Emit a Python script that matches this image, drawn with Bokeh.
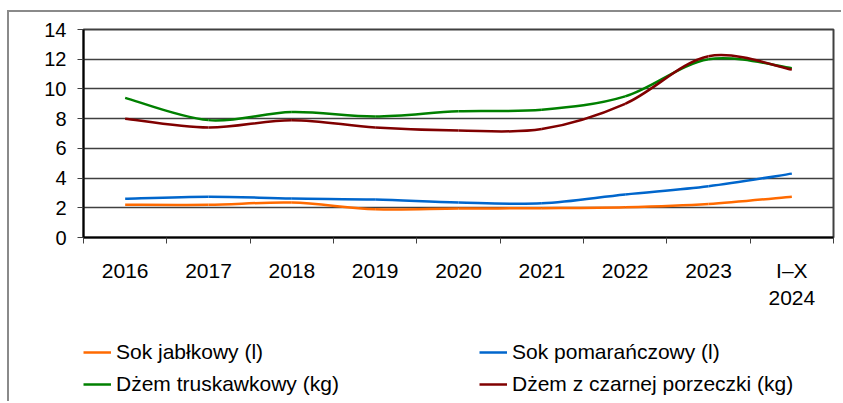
from bokeh.plotting import figure
from bokeh.models import FixedTicker, Legend, LegendItem, Range1d
from bokeh.layouts import column
from bokeh.embed import file_html
from bokeh.resources import INLINE

years = ["2016", "2017", "2018", "2019", "2020", "2021", "2022", "2023", "I–X\n2024"]
sok_jablkowy = [2.2, 2.2, 2.35, 1.9, 1.95, 1.97, 2.03, 2.25, 2.75]
sok_pomaranczowy = [2.6, 2.75, 2.62, 2.55, 2.35, 2.3, 2.9, 3.45, 4.3]
dzem_truskawkowy = [9.4, 7.9, 8.45, 8.15, 8.5, 8.6, 9.5, 12.0, 11.4]
dzem_porzeczki = [8.0, 7.4, 7.9, 7.4, 7.2, 7.3, 9.0, 12.2, 11.3]

series = [
    ("Sok jabłkowy (l)", sok_jablkowy, "#FF6A00"),
    ("Sok pomarańczowy (l)", sok_pomaranczowy, "#0066CC"),
    ("Dżem truskawkowy (kg)", dzem_truskawkowy, "#008000"),
    ("Dżem z czarnej porzeczki (kg)", dzem_porzeczki, "#800000"),
]

FONT = "Liberation Sans"

p = figure(width=832, height=300, output_backend="svg", toolbar_location=None,
           x_range=Range1d(0, len(years)), y_range=Range1d(0, 14),
           min_border_left=74, min_border_top=17, min_border_right=8, min_border_bottom=70)

p.background_fill_color = "white"
p.border_fill_color = "white"
p.outline_line_color = "#404040"
p.outline_line_width = 2

xs = [i + 0.5 for i in range(len(years))]

# x axis: labels at centers, tick marks at category boundaries
p.xaxis.ticker = FixedTicker(ticks=xs, minor_ticks=list(range(len(years) + 1)))
p.xaxis.major_label_overrides = {x: lab for x, lab in zip(xs, years)}
p.xaxis.major_tick_out = 0
p.xaxis.major_tick_in = 0
p.xaxis.minor_tick_out = 6
p.xaxis.minor_tick_in = 0
p.xaxis.minor_tick_line_color = "#404040"
p.xaxis.axis_line_color = "black"
p.xaxis.axis_line_width = 2
p.xaxis.major_label_text_font = FONT
p.xaxis.major_label_text_font_size = "21px"
p.xaxis.major_label_text_color = "black"
p.xaxis.major_label_standoff = 15

p.yaxis.ticker = FixedTicker(ticks=[0, 2, 4, 6, 8, 10, 12, 14])
p.yaxis.major_tick_out = 6
p.yaxis.major_tick_in = 0
p.yaxis.minor_tick_out = 0
p.yaxis.minor_tick_in = 0
p.yaxis.major_tick_line_color = "#404040"
p.yaxis.axis_line_color = "black"
p.yaxis.axis_line_width = 2
p.yaxis.major_label_text_font = FONT
p.yaxis.major_label_text_font_size = "20px"
p.yaxis.major_label_text_color = "black"
p.yaxis.major_label_standoff = 11

p.xgrid.grid_line_color = None
p.ygrid.grid_line_color = "#404040"
p.ygrid.grid_line_width = 1.3


def smooth_segments(x, y):
    n = len(x)
    x0, y0, x1, y1, cx0, cy0, cx1, cy1 = [], [], [], [], [], [], [], []
    for i in range(n - 1):
        im1 = max(i - 1, 0)
        ip2 = min(i + 2, n - 1)
        x0.append(x[i]); y0.append(y[i])
        x1.append(x[i + 1]); y1.append(y[i + 1])
        cx0.append(x[i] + (x[i + 1] - x[im1]) / 6.0)
        cy0.append(y[i] + (y[i + 1] - y[im1]) / 6.0)
        cx1.append(x[i + 1] - (x[ip2] - x[i]) / 6.0)
        cy1.append(y[i + 1] - (y[ip2] - y[i]) / 6.0)
    return dict(x0=x0, y0=y0, x1=x1, y1=y1, cx0=cx0, cy0=cy0, cx1=cx1, cy1=cy1)


for name, vals, color in series:
    seg = smooth_segments(xs, vals)
    p.bezier(**seg, line_color=color, line_width=2.5)

# legend panel (separate figure below the chart so the legend is not clipped);
# its ranges keep the series lines out of view, only the legend shows
p2 = figure(width=832, height=89, output_backend="svg", toolbar_location=None,
            x_range=Range1d(100, 101), y_range=Range1d(100, 101),
            x_axis_type=None, y_axis_type=None,
            min_border_left=0, min_border_top=0, min_border_right=0, min_border_bottom=0)
p2.outline_line_color = None
p2.xgrid.grid_line_color = None
p2.ygrid.grid_line_color = None
p2.background_fill_color = "white"
p2.border_fill_color = "white"

legend_renderers = {}
for name, vals, color in series:
    legend_renderers[name] = p2.line(xs, vals, line_color=color, line_width=2.5)

order = ["Sok jabłkowy (l)", "Sok pomarańczowy (l)",
         "Dżem truskawkowy (kg)", "Dżem z czarnej porzeczki (kg)"]
leg = Legend(items=[LegendItem(label=n, renderers=[legend_renderers[n]]) for n in order],
             location=(0, 1), orientation="horizontal", ncols=2)
leg.label_text_font = FONT
leg.label_text_font_size = "21px"
leg.label_text_color = "black"
leg.glyph_width = 28
leg.glyph_height = 32
leg.label_height = 32
leg.label_width = 363
leg.label_standoff = 5
leg.spacing = 0
leg.padding = 0
leg.margin = 0
leg.border_line_color = None
leg.background_fill_alpha = 0
p2.add_layout(leg, "center")

layout = column(p, p2, spacing=0)
layout.styles = {"border-left": "2px solid #8a8a8a", "border-top": "2px solid #8a8a8a",
                 "margin-left": "7px", "margin-top": "10px"}

open("out.html", "w").write(file_html(layout, INLINE))
